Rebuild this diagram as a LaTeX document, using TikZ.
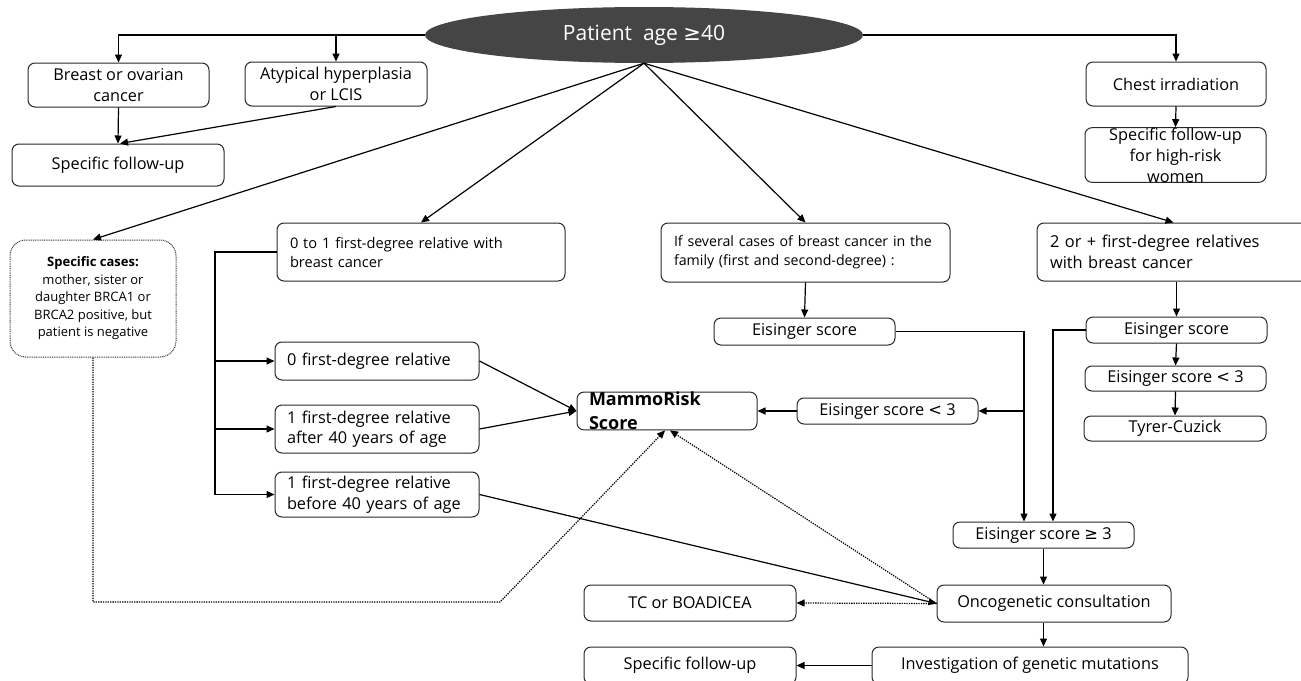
\documentclass[tikz,border=0pt]{standalone}
\usepackage{fontspec}
\setmainfont{Open Sans}
\newfontfamily\symf{DejaVu Sans}
\usetikzlibrary{arrows.meta,shapes.geometric,calc}
\definecolor{rootgray}{RGB}{69,69,69}
\definecolor{boxline}{RGB}{40,40,40}
\newcommand\bx[7][]{\node[box,minimum width={(#5-#3)*1pt},minimum height={(#6-#4)*1pt},#1] (#2) at ({(#3+#5)/2},{(#4+#6)/2}) {#7};}
\begin{document}
\begin{tikzpicture}[x=1pt,y=-1pt,
  box/.style={draw=boxline, line width=1pt, rounded corners=7pt, inner sep=0pt, align=center, font=\fontsize{16.3}{20.5}\selectfont},
  lbox/.style={align=left, inner xsep=13pt},
  ln/.style={line width=1.2pt},
  arr/.style={line width=1.2pt, -{Triangle[length=8pt,width=7pt]}},
  dotarr/.style={line width=1.2pt, dash pattern=on 1.3pt off 1.1pt, -{Triangle[length=8pt,width=7pt]}}]
\clip (0,0) rectangle (1301,680);
\fill[white] (0,0) rectangle (1301,680);
% root
\node[ellipse, fill=rootgray, minimum width=438pt, minimum height=56pt, inner sep=0pt, text=white, font=\fontsize{21}{25}\selectfont] (root) at (644,35) {Patient\ \ age\ {\symf ≥}40};
% top row
\bx{breast}{28}{63}{209}{107}{Breast or ovarian\\cancer}
\bx{atyp}{245}{62}{427}{106}{Atypical hyperplasia\\or LCIS}
\bx{sfu1}{12}{144}{224}{186}{Specific follow-up}
\bx{chest}{1086}{62}{1266}{106}{Chest irradiation}
\bx[font=\fontsize{16.3}{21}\selectfont]{sfuhr}{1085}{133}{1266}{177}{Specific follow-up\\for high-risk\\women}
% second row
\bx[draw=black!75, dash pattern=on 1pt off 0.8pt, rounded corners=16pt, font=\fontsize{13}{17.5}\selectfont]{spec}{10}{240}{176}{357}{{\bfseries Specific cases:}\\mother, sister or\\daughter BRCA1 or\\BRCA2 positive, but\\patient is negative}
\bx[lbox, text width=262pt, font=\fontsize{14.6}{19}\selectfont]{zo}{277}{223}{565}{281}{0 to 1 first-degree relative with\\breast cancer}
\bx[lbox, text width=263pt, font=\fontsize{14.2}{19}\selectfont]{several}{661}{223}{950}{282}{If several cases of breast cancer in the\\family (first and second-degree) :}
\bx[lbox, text width=247pt, font=\fontsize{16.4}{21}\selectfont]{two}{1037}{223}{1310}{281}{2 or + first-degree relatives\\with breast cancer}
% left column
\bx[lbox, inner xsep=12pt, text width=180pt]{z0}{275}{342}{479}{380}{0 first-degree relative}
\bx[lbox, inner xsep=12pt, text width=180pt]{z1a}{275}{405}{479}{453}{1 first-degree relative\\after 40 years of age}
\bx[lbox, inner xsep=12pt, text width=180pt]{z1b}{275}{472}{479}{517}{1 first-degree relative\\before 40 years of age}
\bx[lbox, inner xsep=12pt, text width=156pt, font=\fontsize{18}{24}\selectfont\bfseries]{mammo}{577}{393}{757}{429}{MammoRisk\\Score}
% Eisinger
\bx{eis1}{714}{318}{895}{345}{Eisinger score}
\bx{eislt1}{797}{398}{978}{424}{Eisinger score {\symf <} 3}
\bx{eis2}{1086}{317}{1267}{343}{Eisinger score}
\bx{eislt2}{1085}{366}{1266}{391}{Eisinger score {\symf <} 3}
\bx{tyrer}{1084}{416}{1266}{441}{Tyrer-Cuzick}
\bx{eisge}{953}{522}{1134}{548}{Eisinger score {\symf ≥} 3}
% bottom
\bx{onco}{937}{585}{1171}{622}{Oncogenetic consultation}
\bx{tc}{584}{585}{796}{621}{TC or BOADICEA}
\bx{inv}{872}{647}{1188}{684}{Investigation of genetic mutations}
\bx{sfu2}{584}{647}{796}{684}{Specific follow-up}
% helper coordinates
\coordinate (rail) at (215,0);
\coordinate (c1) at (1024,0);
\coordinate (c2) at (1053,0);
\coordinate (d2) at (500,602);
% top connectors
\draw[arr] (root.west) -| (breast.north);
\draw[arr] (root.west) -| (atyp.north);
\draw[arr] (root.east) -| (chest.north);
\draw[arr] (breast.south) -- (sfu1.north);
\draw[arr] (atyp.south) -- ($(sfu1.north)+(2,0)$);
\draw[arr] (chest.south) -- (sfuhr.north);
% fan
\draw[arr] (root.south) -- (spec.north);
\draw[arr] (root.south) -- (zo.north);
\draw[arr] (root.south) -- (several.north);
\draw[arr] (root.south) -- (two.north);
% left rail
\draw[ln] (zo.west) -- (zo.west -| rail) -- (z1b.west -| rail);
\draw[arr] (z0.west -| rail) -- (z0.west);
\draw[arr] (z1a.west -| rail) -- (z1a.west);
\draw[arr] (z1b.west -| rail) -- (z1b.west);
\draw[arr] (z0.east) -- (mammo.west);
\draw[arr] (z1a.east) -- (mammo.west);
\draw[arr] (z1b.east) -- (onco.west);
% middle
\draw[arr] (several.south) -- (eis1.north);
\draw[arr] (eis1.east) -- (eis1.east -| c1) -- (eisge.north -| c1);
\draw[arr] (eislt1.east -| c1) -- (eislt1.east);
\draw[arr] (eislt1.west) -- (mammo.east);
% right
\draw[arr] (eis2.north |- two.south) -- (eis2.north);
\draw[arr] (eis2.south) -- (eislt2.north);
\draw[arr] (eislt2.south) -- (tyrer.north);
\draw[arr] (eis2.west) -- (eis2.west -| c2) -- (eisge.north -| c2);
% bottom
\draw[arr] (eisge.south) -- (eisge.south |- onco.north);
\draw[arr] (eisge.south |- onco.south) -- (eisge.south |- inv.north);
\draw[dotarr] (onco.west) -- (tc.east);
\draw[arr] (inv.west) -- (sfu2.east);
% dotted to MammoRisk
\draw[dotarr] (spec.south) -- (spec.south |- d2) -- (d2) -- ($(mammo.south)+(-2,0)$);
\draw[dotarr] (onco.west) -- ($(mammo.south)+(3,0)$);
\end{tikzpicture}
\end{document}
